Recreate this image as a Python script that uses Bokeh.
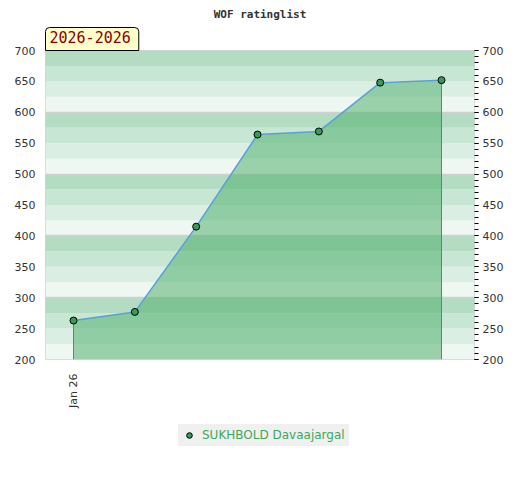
from bokeh.plotting import figure
from bokeh.layouts import column
from bokeh.models import (Range1d, LinearAxis, FixedTicker, SingleIntervalTicker,
                          BoxAnnotation, Legend, LegendItem, Title)
from bokeh.embed import file_html
from bokeh.resources import INLINE

# ---- data ----
x_index = [0, 1, 2, 3, 4, 5, 6]
ratings = [263, 277, 415, 564, 569, 648, 652]
x_tick_positions = [0]
x_tick_labels = ["Jan 26"]
series_name = "SUKHBOLD Davaajargal"
title_text = "WOF ratinglist"
period_label = "2026-2026"
y_min, y_max = 200, 700

p = figure(width=512, height=410, output_backend="svg", toolbar_location=None,
           x_range=Range1d(-0.457, 6.538), y_range=Range1d(y_min, y_max),
           min_border_left=45, min_border_right=38, min_border_top=50,
           min_border_bottom=50, title=None)

# period label (closest to the frame)
period = Title(text=period_label, align="left", text_font="DejaVu Sans Mono",
               text_font_size="15px", text_font_style="normal",
               text_color="#8b0000", background_fill_color="#ffffcc",
               border_line_color="black", border_line_width=1,
               padding=(4, 8, 3, 8), border_radius=(4, 4, 0, 0),
               standoff=0, offset=0)
p.add_layout(period, "above")

main_title = Title(text=title_text, align="center", text_font="DejaVu Sans Mono",
                   text_font_size="11px", text_font_style="bold",
                   text_color="#333333", standoff=10)
p.add_layout(main_title, "above")

p.outline_line_color = "#d4d4d4"
p.outline_line_width = 1
p.background_fill_color = "white"

# background bands (4 per 100)
band_colors = ["#eff7f3", "#dbeee3", "#c8e6d4", "#b3dcc3"]
for base in range(y_min, y_max, 100):
    for i, c in enumerate(band_colors):
        p.add_layout(BoxAnnotation(bottom=base + 25 * i, top=base + 25 * (i + 1),
                                   fill_color=c, fill_alpha=1.0, line_alpha=0,
                                   level="image"))

p.xgrid.visible = False
p.ygrid.ticker = FixedTicker(ticks=list(range(y_min + 100, y_max, 100)))
p.ygrid.grid_line_color = "#d0d0d0"
p.ygrid.grid_line_width = 1.5

# area
p.varea(x=x_index, y1=[y_min] * len(x_index), y2=ratings,
        fill_color="#50b06c", fill_alpha=0.53)
p.segment(x0=[x_index[0], x_index[-1]], y0=[y_min, y_min],
          x1=[x_index[0], x_index[-1]], y1=[ratings[0], ratings[-1]],
          line_color="#3d9c5c", line_width=1)
p.line(x_index, ratings, line_color="#5aa0d8", line_width=1.5)
pts = p.scatter(x_index, ratings, size=7, fill_color="#3a9a5a",
                line_color="black", line_width=1)

# axes
p.xaxis.ticker = FixedTicker(ticks=x_tick_positions)
p.xaxis.major_label_overrides = {t: l for t, l in zip(x_tick_positions, x_tick_labels)}
p.xaxis.major_label_orientation = 1.5708
p.xaxis.axis_line_color = None
p.xaxis.major_tick_line_color = None
p.xaxis.minor_tick_line_color = None
p.xaxis.major_label_text_font = "DejaVu Sans"
p.xaxis.major_label_text_font_size = "11px"
p.xaxis.major_label_text_color = "#333333"
p.xaxis.major_label_standoff = 8

p.yaxis.ticker = SingleIntervalTicker(interval=50, num_minor_ticks=0)
p.yaxis.axis_line_color = None
p.yaxis.major_tick_line_color = None
p.yaxis.minor_tick_line_color = None
p.yaxis.major_tick_out = 0
p.yaxis.major_tick_in = 0
p.yaxis.major_label_text_font = "DejaVu Sans"
p.yaxis.major_label_text_font_size = "11px"
p.yaxis.major_label_text_color = "#333333"
p.yaxis.major_label_standoff = 10

ry = LinearAxis(ticker=SingleIntervalTicker(interval=50, num_minor_ticks=5))
ry.axis_line_color = None
ry.major_tick_in = 0
ry.major_tick_out = 4
ry.minor_tick_in = 0
ry.minor_tick_out = 4
ry.major_tick_line_color = "black"
ry.minor_tick_line_color = "black"
ry.major_label_text_font = "DejaVu Sans"
ry.major_label_text_font_size = "11px"
ry.major_label_text_color = "#333333"
ry.major_label_standoff = 4
p.add_layout(ry, "right")

# legend in its own strip below the chart (its frame aligns with the chart's)
lg = figure(width=512, height=62, output_backend="svg", toolbar_location=None,
            x_axis_type=None, y_axis_type=None, min_border=0,
            x_range=Range1d(0, 1), y_range=Range1d(0, 1))
lg.outline_line_color = None
lg.xgrid.visible = False
lg.ygrid.visible = False
legend_pts = lg.scatter(x=[x_index[0] - 10], y=[ratings[0]], size=7,
                        fill_color="#3a9a5a", line_color="black", line_width=1)
legend = Legend(items=[LegendItem(label=series_name, renderers=[legend_pts])],
                location=(133, 26), background_fill_color="#f0f0f0",
                background_fill_alpha=1.0, border_line_alpha=0,
                label_text_color="#3aaa5a", label_text_font="DejaVu Sans",
                label_text_font_size="12px", glyph_width=14, glyph_height=14,
                padding=4, margin=0, label_standoff=6)
lg.add_layout(legend)

layout = column(p, lg, spacing=0)
open("out.html", "w").write(file_html(layout, INLINE))
